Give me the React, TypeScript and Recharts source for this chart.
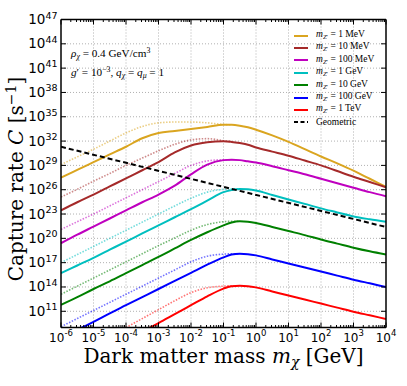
import React from 'react';
import { LineChart, Line, XAxis, YAxis, ReferenceLine, Legend } from 'recharts';

// x: log10 of dark matter mass [GeV], y: log10 of capture rate [1/s]
const logMass = [-6, -5.5, -5, -4.5, -4, -3.5, -3, -2.5, -2, -1.5, -1, -0.75, -0.5, -0.25, 0, 0.5, 1, 1.5, 2, 2.5, 3, 3.5, 4];

const mediatorMasses = ['1 MeV', '10 MeV', '100 MeV', '1 GeV', '10 GeV', '100 GeV', '1 TeV'];
const mediatorColors = ['#daa520', '#a52a2a', '#bf00bf', '#00bfbf', '#008000', '#0000ff', '#ff0000'];

const solid1MeV = [27.5, 28.45, 29.4, 30.35, 31.3, 32.35, 33.0, 33.25, 33.5, 33.75, 34.0, 34.0, 33.9, 33.7, 33.4, 32.7, 31.9, 31.0, 30.1, 29.25, 28.35, 27.35, 26.35];
const dotted1MeV = [29.1, 30.05, 31.0, 32.0, 33.0, 33.8, 34.25, 34.35, 34.35, 34.25, 34.05, 34.0, null, null, null, null, null, null, null, null, null, null, null];
const solid10MeV = [23.45, 24.45, 25.4, 26.4, 27.4, 28.4, 29.4, 30.6, 31.45, 31.85, 31.98, 31.9, 31.75, 31.55, 31.2, 30.7, 30.2, 29.6, 29.0, 28.3, 27.6, 26.95, 26.3];
const dotted10MeV = [25.1, 26.05, 27.05, 28.0, 29.0, 29.9, 30.8, 31.6, 32.15, 32.3, 32.05, 31.9, null, null, null, null, null, null, null, null, null, null, null];
const solid100MeV = [19.4, 20.45, 21.45, 22.45, 23.45, 24.45, 25.4, 26.5, 27.9, 29.1, 29.65, 29.7, 29.65, 29.5, 29.35, 28.9, 28.4, 27.9, 27.35, 26.8, 26.25, 25.7, 25.2];
const dotted100MeV = [21.1, 22.05, 23.0, 24.0, 25.0, 26.0, 27.0, 28.0, 29.0, 29.55, 29.7, 29.7, null, null, null, null, null, null, null, null, null, null, null];
const solid1GeV = [15.7, 16.65, 17.6, 18.6, 19.6, 20.6, 21.6, 22.6, 23.6, 24.65, 25.7, 25.95, 26.1, 26.05, 25.9, 25.35, 24.8, 24.25, 23.7, 23.2, 22.7, 22.35, 22.05];
const dotted1GeV = [17.0, 18.0, 19.0, 20.0, 21.0, 22.0, 23.0, 24.0, 24.95, 25.7, 26.05, 26.1, 26.1, null, null, null, null, null, null, null, null, null, null];
const solid10GeV = [11.8, 12.75, 13.75, 14.7, 15.7, 16.7, 17.7, 18.75, 19.8, 20.75, 21.6, 21.95, 22.1, 22.05, 21.9, 21.4, 20.9, 20.4, 19.85, 19.35, 18.85, 18.4, 18.0];
const dotted10GeV = [13.1, 14.1, 15.1, 16.1, 17.1, 18.1, 19.1, 20.05, 21.0, 21.7, 22.05, 22.1, 22.1, null, null, null, null, null, null, null, null, null, null];
const solid100GeV = [7.7, 8.7, 9.7, 10.75, 11.75, 12.75, 13.75, 14.75, 15.75, 16.75, 17.65, 18.0, 18.1, 18.05, 17.9, 17.4, 16.9, 16.4, 15.9, 15.4, 14.9, 14.45, 14.0];
const dotted100GeV = [9.1, 10.1, 11.1, 12.1, 13.1, 14.1, 15.1, 16.1, 17.1, 17.8, 18.05, 18.1, 18.1, null, null, null, null, null, null, null, null, null, null];
const solid1TeV = [null, null, null, null, 7.5, 8.5, 9.55, 10.65, 11.75, 12.85, 13.8, 14.1, 14.15, 14.1, 13.95, 13.45, 12.95, 12.45, 11.95, 11.45, 10.95, 10.5, 10.05];
const dotted1TeV = [null, null, null, 8.0, 9.0, 10.1, 11.2, 12.3, 13.3, 13.9, 14.1, 14.15, 14.15, null, null, null, null, null, null, null, null, null, null];
const geometric = [31.3, null, null, null, null, null, null, null, null, null, null, null, null, null, null, null, null, null, null, null, null, null, 21.4];

const solidSeries = [solid1MeV, solid10MeV, solid100MeV, solid1GeV, solid10GeV, solid100GeV, solid1TeV];
const dottedSeries = [dotted1MeV, dotted10MeV, dotted100MeV, dotted1GeV, dotted10GeV, dotted100GeV, dotted1TeV];

const xMajor = [-6, -5, -4, -3, -2, -1, 0, 1, 2, 3, 4];
const xMinor = xMajor.slice(0, -1).flatMap((n) => [2, 3, 4, 5, 6, 7, 8, 9].map((k) => n + Math.log10(k)));
const xTicks = [...xMajor, ...xMinor].sort((a, b) => a - b);
const yTicks = [11, 14, 17, 20, 23, 26, 29, 32, 35, 38, 41, 44, 47];

const data = logMass.map((m, i) => {
  const row: any = { m, geo: geometric[i] };
  solidSeries.forEach((s, j) => { row['s' + j] = s[i]; });
  dottedSeries.forEach((s, j) => { row['d' + j] = s[i]; });
  return row;
});

const SERIF = '"Liberation Serif", "Times New Roman", serif';
const TITLE_SERIF = '"DejaVu Serif", serif';
const SANS = '"DejaVu Sans", sans-serif';

const isMajor = (v: number) => Math.abs(v - Math.round(v)) < 1e-6;
const fmtExp = (v: number) => String(Math.round(v));

const BottomTick = (p: any) => {
  const v = p.payload.value;
  const major = isMajor(v);
  return (
    <g>
      <line x1={p.x} x2={p.x} y1={p.y} y2={p.y - (major ? 5 : 2.5)} stroke="#000" strokeWidth={1} />
      {major && (
        <text x={p.x} y={p.y + 14} textAnchor="middle" fontFamily={SANS} fontSize={12} fill="#000">
          10<tspan dy={-5.5} fontSize={8.5}>{fmtExp(v)}</tspan>
        </text>
      )}
    </g>
  );
};

const TopTick = (p: any) => {
  const major = isMajor(p.payload.value);
  return <line x1={p.x} x2={p.x} y1={p.y} y2={p.y + (major ? 5 : 2.5)} stroke="#000" strokeWidth={1} />;
};

const LeftTick = (p: any) => (
  <g>
    <line x1={p.x} x2={p.x + 5} y1={p.y} y2={p.y} stroke="#000" strokeWidth={1} />
    <text x={p.x - 3.5} y={p.y + 4.5} textAnchor="end" fontFamily={SANS} fontSize={13.5} fill="#000">
      10<tspan dy={-5.5} fontSize={9.5}>{fmtExp(p.payload.value)}</tspan>
    </text>
  </g>
);

const RightTick = (p: any) => <line x1={p.x} x2={p.x - 5} y1={p.y} y2={p.y} stroke="#000" strokeWidth={1} />;

const sub = { fontSize: '0.7em', verticalAlign: '-0.3em' } as React.CSSProperties;
const sup = { fontSize: '0.7em', verticalAlign: '0.45em' } as React.CSSProperties;

// legend rows in the original order (mediator masses, then geometric)
const LegendBox = () => {
  const rows = [
    ...mediatorMasses.map((name, j) => ({ name, color: mediatorColors[j], dashed: false })),
    { name: 'Geometric', color: '#000', dashed: true },
  ];
  return (
    <div style={{ fontFamily: SERIF, fontSize: 9.5, lineHeight: '12.4px', color: '#000' }}>
      {rows.map((r) => (
        <div key={r.name} style={{ display: 'flex', alignItems: 'center', height: 12.4 }}>
          <svg width={14} height={4} style={{ marginRight: 8 }}>
            <line x1={0} x2={14} y1={2} y2={2} stroke={r.color} strokeWidth={2} strokeDasharray={r.dashed ? '4 2.5' : undefined} />
          </svg>
          {r.dashed ? (
            <span>{r.name}</span>
          ) : (
            <span><i>m</i><span style={sub}><i>Z</i>′</span> = {r.name}</span>
          )}
        </div>
      ))}
    </div>
  );
};

export default function App() {
  return (
    <div style={{ position: 'absolute', left: 0, top: 0, width: 407, height: 386, background: '#fff', overflow: 'hidden' }}>
      <LineChart width={407} height={386} data={data} margin={{ top: 0, right: 0, bottom: 0, left: 0 }}>
        <XAxis xAxisId="bottom" dataKey="m" type="number" domain={[-6, 4]} ticks={xTicks} interval={0}
          tick={(p: any) => <BottomTick {...p} />} tickSize={0} tickMargin={0} tickLine={false}
          height={58.5} axisLine={{ stroke: '#000', strokeWidth: 1.5 }} allowDataOverflow />
        <XAxis xAxisId="top" orientation="top" dataKey="m" type="number" domain={[-6, 4]} ticks={xTicks} interval={0}
          tick={(p: any) => <TopTick {...p} />} tickSize={0} tickMargin={0} tickLine={false}
          height={19.5} axisLine={{ stroke: '#000', strokeWidth: 1.5 }} allowDataOverflow />
        <YAxis yAxisId="left" type="number" domain={[9, 47]} ticks={yTicks} interval={0}
          tick={(p: any) => <LeftTick {...p} />} tickSize={0} tickMargin={0} tickLine={false}
          width={61} axisLine={{ stroke: '#000', strokeWidth: 1.5 }} allowDataOverflow />
        <YAxis yAxisId="right" orientation="right" type="number" domain={[9, 47]} ticks={yTicks} interval={0}
          tick={(p: any) => <RightTick {...p} />} tickSize={0} tickMargin={0} tickLine={false}
          width={21} axisLine={{ stroke: '#000', strokeWidth: 1.5 }} allowDataOverflow />

        {xMajor.slice(1, -1).map((v) => (
          <ReferenceLine key={'gx' + v} x={v} xAxisId="bottom" yAxisId="left" stroke="#b0b0b0" strokeDasharray="1 2" strokeWidth={1} />
        ))}
        {yTicks.slice(0, -1).map((v) => (
          <ReferenceLine key={'gy' + v} y={v} xAxisId="bottom" yAxisId="left" stroke="#b0b0b0" strokeDasharray="1 2" strokeWidth={1} />
        ))}

        {mediatorMasses.map((name, j) => (
          <Line key={'d' + j} xAxisId="bottom" yAxisId="left" type="monotone" dataKey={'d' + j} name={name + ' approx'}
            stroke={mediatorColors[j]} strokeOpacity={0.55} strokeWidth={1.6} strokeDasharray="1.5 1.5"
            dot={false} activeDot={false} legendType="none" isAnimationActive={false} />
        ))}
        {mediatorMasses.map((name, j) => (
          <Line key={'s' + j} xAxisId="bottom" yAxisId="left" type="monotone" dataKey={'s' + j} name={name}
            stroke={mediatorColors[j]} strokeWidth={2} dot={false} activeDot={false} isAnimationActive={false} />
        ))}
        <Line xAxisId="bottom" yAxisId="left" type="linear" dataKey="geo" name="Geometric" stroke="#000"
          strokeWidth={2} strokeDasharray="5 3" connectNulls dot={false} activeDot={false} isAnimationActive={false} />

        <Legend layout="vertical" align="center" verticalAlign="middle" content={() => <LegendBox />}
          wrapperStyle={{ left: 294, top: 29.5, width: 110, height: 100 }} />
      </LineChart>

      <div style={{ position: 'absolute', left: 71, top: 44, fontFamily: SERIF, fontSize: 11.2, lineHeight: '13.5px', color: '#000', whiteSpace: 'nowrap' }}>
        <div><i>ρ</i><span style={sub}><i>χ</i></span> = 0.4 GeV/cm<span style={sup}>3</span></div>
        <div><i>g</i>′ = 10<span style={sup}>−3</span>, <i>q</i><span style={sub}><i>χ</i></span> = <i>q</i><span style={sub}><i>μ</i></span> = 1</div>
      </div>

      <div style={{ position: 'absolute', left: 61, width: 325, top: 346, textAlign: 'center', fontFamily: TITLE_SERIF, fontSize: 20, lineHeight: '21px', color: '#000', whiteSpace: 'nowrap' }}>
        Dark matter mass <i>m</i><span style={sub}><i>χ</i></span> [GeV]
      </div>

      <div style={{ position: 'absolute', left: 13.6, top: 179, transform: 'translate(-50%, -50%) rotate(-90deg)', fontFamily: TITLE_SERIF, fontSize: 20, lineHeight: '21px', color: '#000', whiteSpace: 'nowrap' }}>
        Capture rate <i>C</i> [s<span style={sup}>−1</span>]
      </div>
    </div>
  );
}
